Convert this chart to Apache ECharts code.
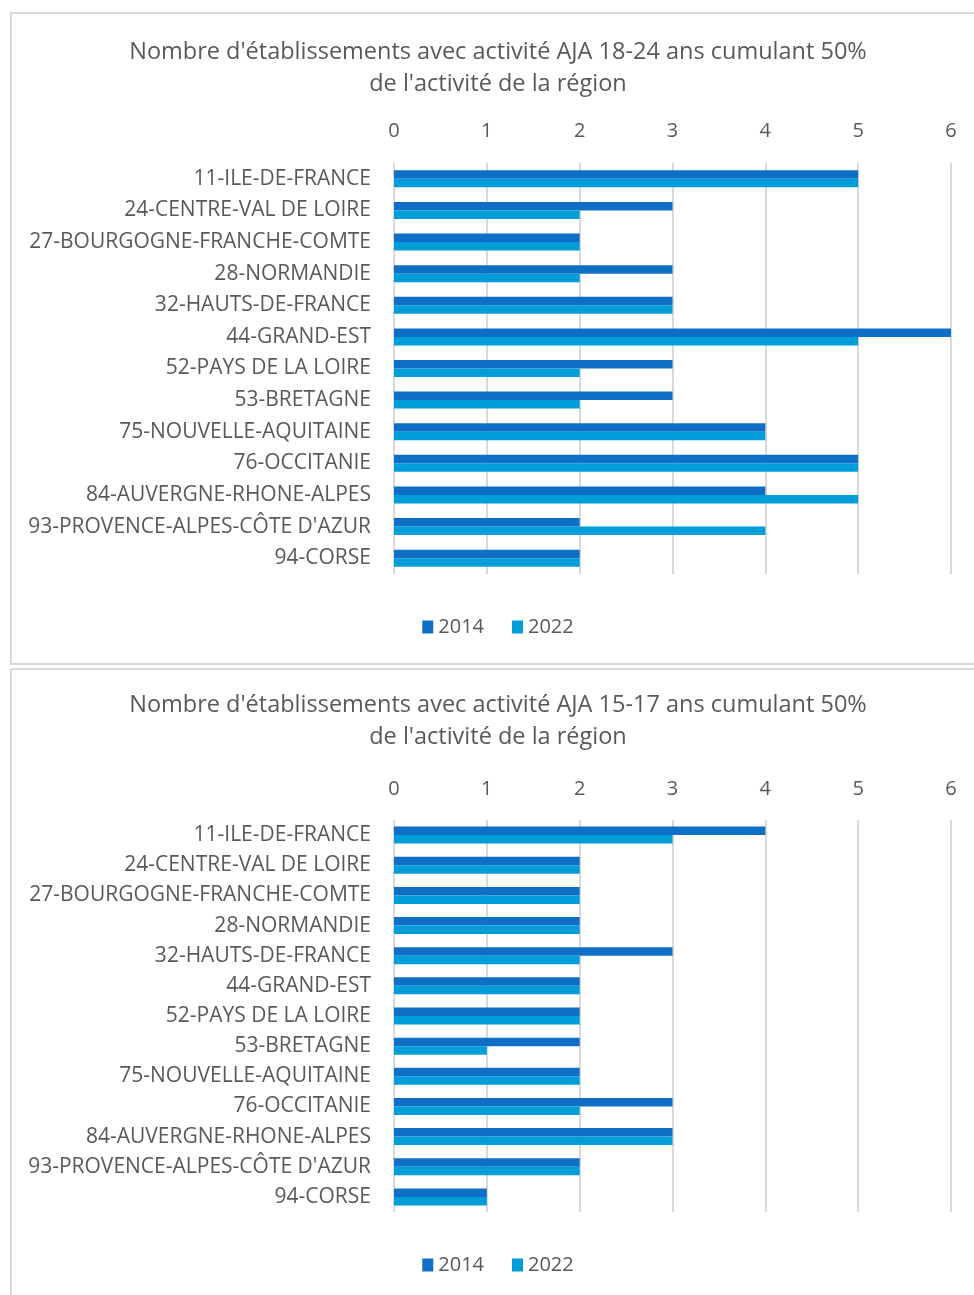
<!DOCTYPE html>
<html>
<head>
<meta charset="utf-8">
<script src="https://cdn.jsdelivr.net/npm/echarts@6/dist/echarts.min.js"></script>
<style>
  body { margin: 0; background: #fff; width: 974px; height: 1295px; overflow: hidden; position: relative; }
  .panel { position: absolute; left: 10px; width: 972px; border: 2px solid #d9d9d9; background: #fff; }
  #p1 { top: 12px; height: 649px; }
  #p2 { top: 668px; height: 640px; }
  .panel div { width: 100%; height: 100%; }
</style>
</head>
<body>
<div class="panel" id="p1"><div id="c1"></div></div>
<div class="panel" id="p2"><div id="c2"></div></div>
<script>
const regions = [
  '11-ILE-DE-FRANCE', '24-CENTRE-VAL DE LOIRE', '27-BOURGOGNE-FRANCHE-COMTE',
  '28-NORMANDIE', '32-HAUTS-DE-FRANCE', '44-GRAND-EST', '52-PAYS DE LA LOIRE',
  '53-BRETAGNE', '75-NOUVELLE-AQUITAINE', '76-OCCITANIE', '84-AUVERGNE-RHONE-ALPES',
  "93-PROVENCE-ALPES-CÔTE D'AZUR", '94-CORSE'
]
const seriesNames = ['2014', '2022']

// 18-24 ans
const adult2014 = [5, 3, 2, 3, 3, 6, 3, 3, 4, 5, 4, 2, 2]
const adult2022 = [5, 2, 2, 2, 3, 5, 2, 2, 4, 5, 5, 4, 2]
// 15-17 ans
const teen2014 = [4, 2, 2, 2, 3, 2, 2, 2, 2, 3, 3, 2, 1]
const teen2022 = [3, 2, 2, 2, 2, 2, 2, 1, 2, 2, 3, 2, 1]

const titleTop = "Nombre d'établissements avec activité AJA 18-24 ans cumulant 50%\nde l'activité de la région"
const titleBottom = "Nombre d'établissements avec activité AJA 15-17 ans cumulant 50%\nde l'activité de la région"

const font = '"Open Sans", "Noto Sans", sans-serif'
const grey = '#595959'

function buildOption(title, d2014, d2022, lay) {
  return {
    animation: false,
    color: ['#0F6FC6', '#009DD9'],
    textStyle: { fontFamily: font },
    title: {
      text: title,
      left: 'center',
      top: lay.titleTop,
      textStyle: { color: grey, fontSize: 23.5, fontWeight: 'normal', lineHeight: 32, fontFamily: font }
    },
    legend: {
      data: seriesNames,
      top: lay.legendTop,
      left: 'center',
      icon: 'rect',
      itemWidth: 11,
      itemHeight: 13,
      itemGap: 28,
      itemTextGap: 5,
      textStyle: { color: grey, fontSize: 20, fontFamily: font }
    },
    grid: {
      left: 382,
      width: 557,
      top: lay.gridTop,
      height: lay.gridHeight
    },
    xAxis: {
      type: 'value',
      position: 'top',
      min: 0,
      max: 6,
      interval: 1,
      axisLine: { show: false },
      axisTick: { show: false },
      axisLabel: { color: grey, fontSize: 20, margin: lay.labelMargin, fontFamily: font },
      splitLine: { lineStyle: { color: '#d9d9d9', width: 2 } }
    },
    yAxis: {
      type: 'category',
      inverse: true,
      data: regions,
      axisLine: { show: false },
      axisTick: { show: false },
      axisLabel: { color: grey, fontSize: 21, margin: 23, fontFamily: font }
    },
    series: [
      { name: '2014', type: 'bar', data: d2014, barWidth: 8.5, barGap: '0%' },
      { name: '2022', type: 'bar', data: d2022, barWidth: 8.5, barGap: '0%' }
    ]
  }
}

const chart1 = echarts.init(document.getElementById('c1'))
chart1.setOption(buildOption(titleTop, adult2014, adult2022, {
  titleTop: 17, legendTop: 598, gridTop: 149, gridHeight: 411, labelMargin: 22
}))

const chart2 = echarts.init(document.getElementById('c2'))
chart2.setOption(buildOption(titleBottom, teen2014, teen2022, {
  titleTop: 14, legendTop: 580, gridTop: 150, gridHeight: 392, labelMargin: 21
}))
</script>
</body>
</html>
